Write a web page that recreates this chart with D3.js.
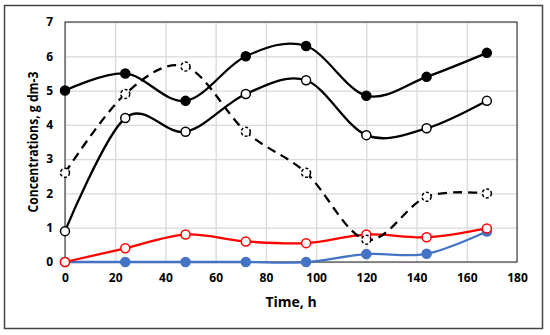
<!DOCTYPE html>
<html>
<head>
<meta charset="utf-8">
<script src="https://cdn.jsdelivr.net/npm/d3@7"></script>
<style>
  body { margin: 0; background: #fff; }
  svg text { font-family: "Open Sans", "DejaVu Sans", sans-serif; font-weight: bold; fill: #000; }
</style>
</head>
<body>
<div id="chart"></div>
<script>
const times = [0, 24, 48, 72, 96, 120, 144, 168];
const filledBlack = [5.0, 5.5, 4.7, 6.0, 6.3, 4.85, 5.4, 6.1];
const openBlack = [0.9, 4.2, 3.8, 4.9, 5.3, 3.7, 3.9, 4.7];
const dashedBlack = [2.6, 4.9, 5.7, 3.8, 2.6, 0.65, 1.9, 2.0];
const redOpen = [0, 0.4, 0.8, 0.6, 0.55, 0.8, 0.72, 0.98];
const blueFilled = [0, 0, 0, 0, 0, 0.23, 0.24, 0.89];
const xTicks = [0, 20, 40, 60, 80, 100, 120, 140, 160, 180];
const yTicks = [0, 1, 2, 3, 4, 5, 6, 7];

const width = 550, height = 335;
const margin = {top: 22, right: 33, bottom: 73, left: 65};
const w = width - margin.left - margin.right, h = height - margin.top - margin.bottom;

const svg = d3.select("#chart").append("svg")
    .attr("width", width)
    .attr("height", height);

// outer frame
svg.append("rect")
    .attr("x", 4.5).attr("y", 5.5)
    .attr("width", 538).attr("height", 323)
    .attr("fill", "none")
    .attr("stroke", "#444")
    .attr("stroke-width", 1.5);

const g = svg.append("g").attr("transform", `translate(${margin.left},${margin.top})`);

const x = d3.scaleLinear().domain([0, 180]).range([0, w]);
const y = d3.scaleLinear().domain([0, 7]).range([h, 0]);

// grid
g.append("g")
    .call(d3.axisBottom(x).tickValues(xTicks).tickSize(h).tickFormat(""))
    .call(s => s.select(".domain").remove())
    .selectAll("line").attr("stroke", "#d9d9d9").attr("stroke-width", 1.3);
g.append("g")
    .call(d3.axisLeft(y).tickValues(yTicks).tickSize(-w).tickFormat(""))
    .call(s => s.select(".domain").remove())
    .selectAll("line").attr("stroke", "#d9d9d9").attr("stroke-width", 1.3);

// plot border
g.append("rect")
    .attr("width", w).attr("height", h)
    .attr("fill", "none")
    .attr("stroke", "#222")
    .attr("stroke-width", 1);

// tick labels
const xAxis = g.append("g")
    .attr("transform", `translate(0,${h})`)
    .call(d3.axisBottom(x).tickValues(xTicks).tickSize(0).tickPadding(11).tickFormat(d3.format("d")));
xAxis.select(".domain").remove();
xAxis.selectAll("text").attr("font-size", 12).attr("font-family", null);

const yAxis = g.append("g")
    .call(d3.axisLeft(y).tickValues(yTicks).tickSize(0).tickPadding(12).tickFormat(d3.format("d")));
yAxis.select(".domain").remove();
yAxis.selectAll("text").attr("font-size", 12).attr("font-family", null);

// axis titles
svg.append("text")
    .attr("x", margin.left + w / 2)
    .attr("y", 307)
    .attr("text-anchor", "middle")
    .attr("font-size", 14)
    .text("Time, h");

svg.append("text")
    .attr("transform", `translate(38,${margin.top + h / 2}) rotate(-90)`)
    .attr("text-anchor", "middle")
    .attr("font-size", 14)
    .attr("textLength", 141)
    .attr("lengthAdjust", "spacingAndGlyphs")
    .text("Concentrations, g dm-3");

const line = d3.line()
    .x(d => x(d[0]))
    .y(d => y(d[1]))
    .curve(d3.curveCardinal.tension(0));

const series = [
    {vals: blueFilled, color: "#4472c4", fill: "#4472c4", dash: null, r: 4.5},
    {vals: redOpen, color: "#ff0000", fill: "#fff", dash: null, r: 4.5},
    {vals: dashedBlack, color: "#000", fill: "#fff", dash: "9,6", r: 4.5},
    {vals: openBlack, color: "#000", fill: "#fff", dash: null, r: 4.5},
    {vals: filledBlack, color: "#000", fill: "#000", dash: null, r: 4.5}
];

series.forEach(s => {
    const pts = times.map((t, i) => [t, s.vals[i]]);
    g.append("path")
        .datum(pts)
        .attr("d", line)
        .attr("fill", "none")
        .attr("stroke", s.color)
        .attr("stroke-width", 2.3)
        .attr("stroke-dasharray", s.dash);
    g.selectAll(null)
        .data(pts)
        .enter()
        .append("circle")
        .attr("cx", d => x(d[0]))
        .attr("cy", d => y(d[1]))
        .attr("r", s.r)
        .attr("fill", s.fill)
        .attr("stroke", s.color)
        .attr("stroke-width", 1.5)
        .attr("stroke-dasharray", s.dash ? "3,2" : null);
});
</script>
</body>
</html>
